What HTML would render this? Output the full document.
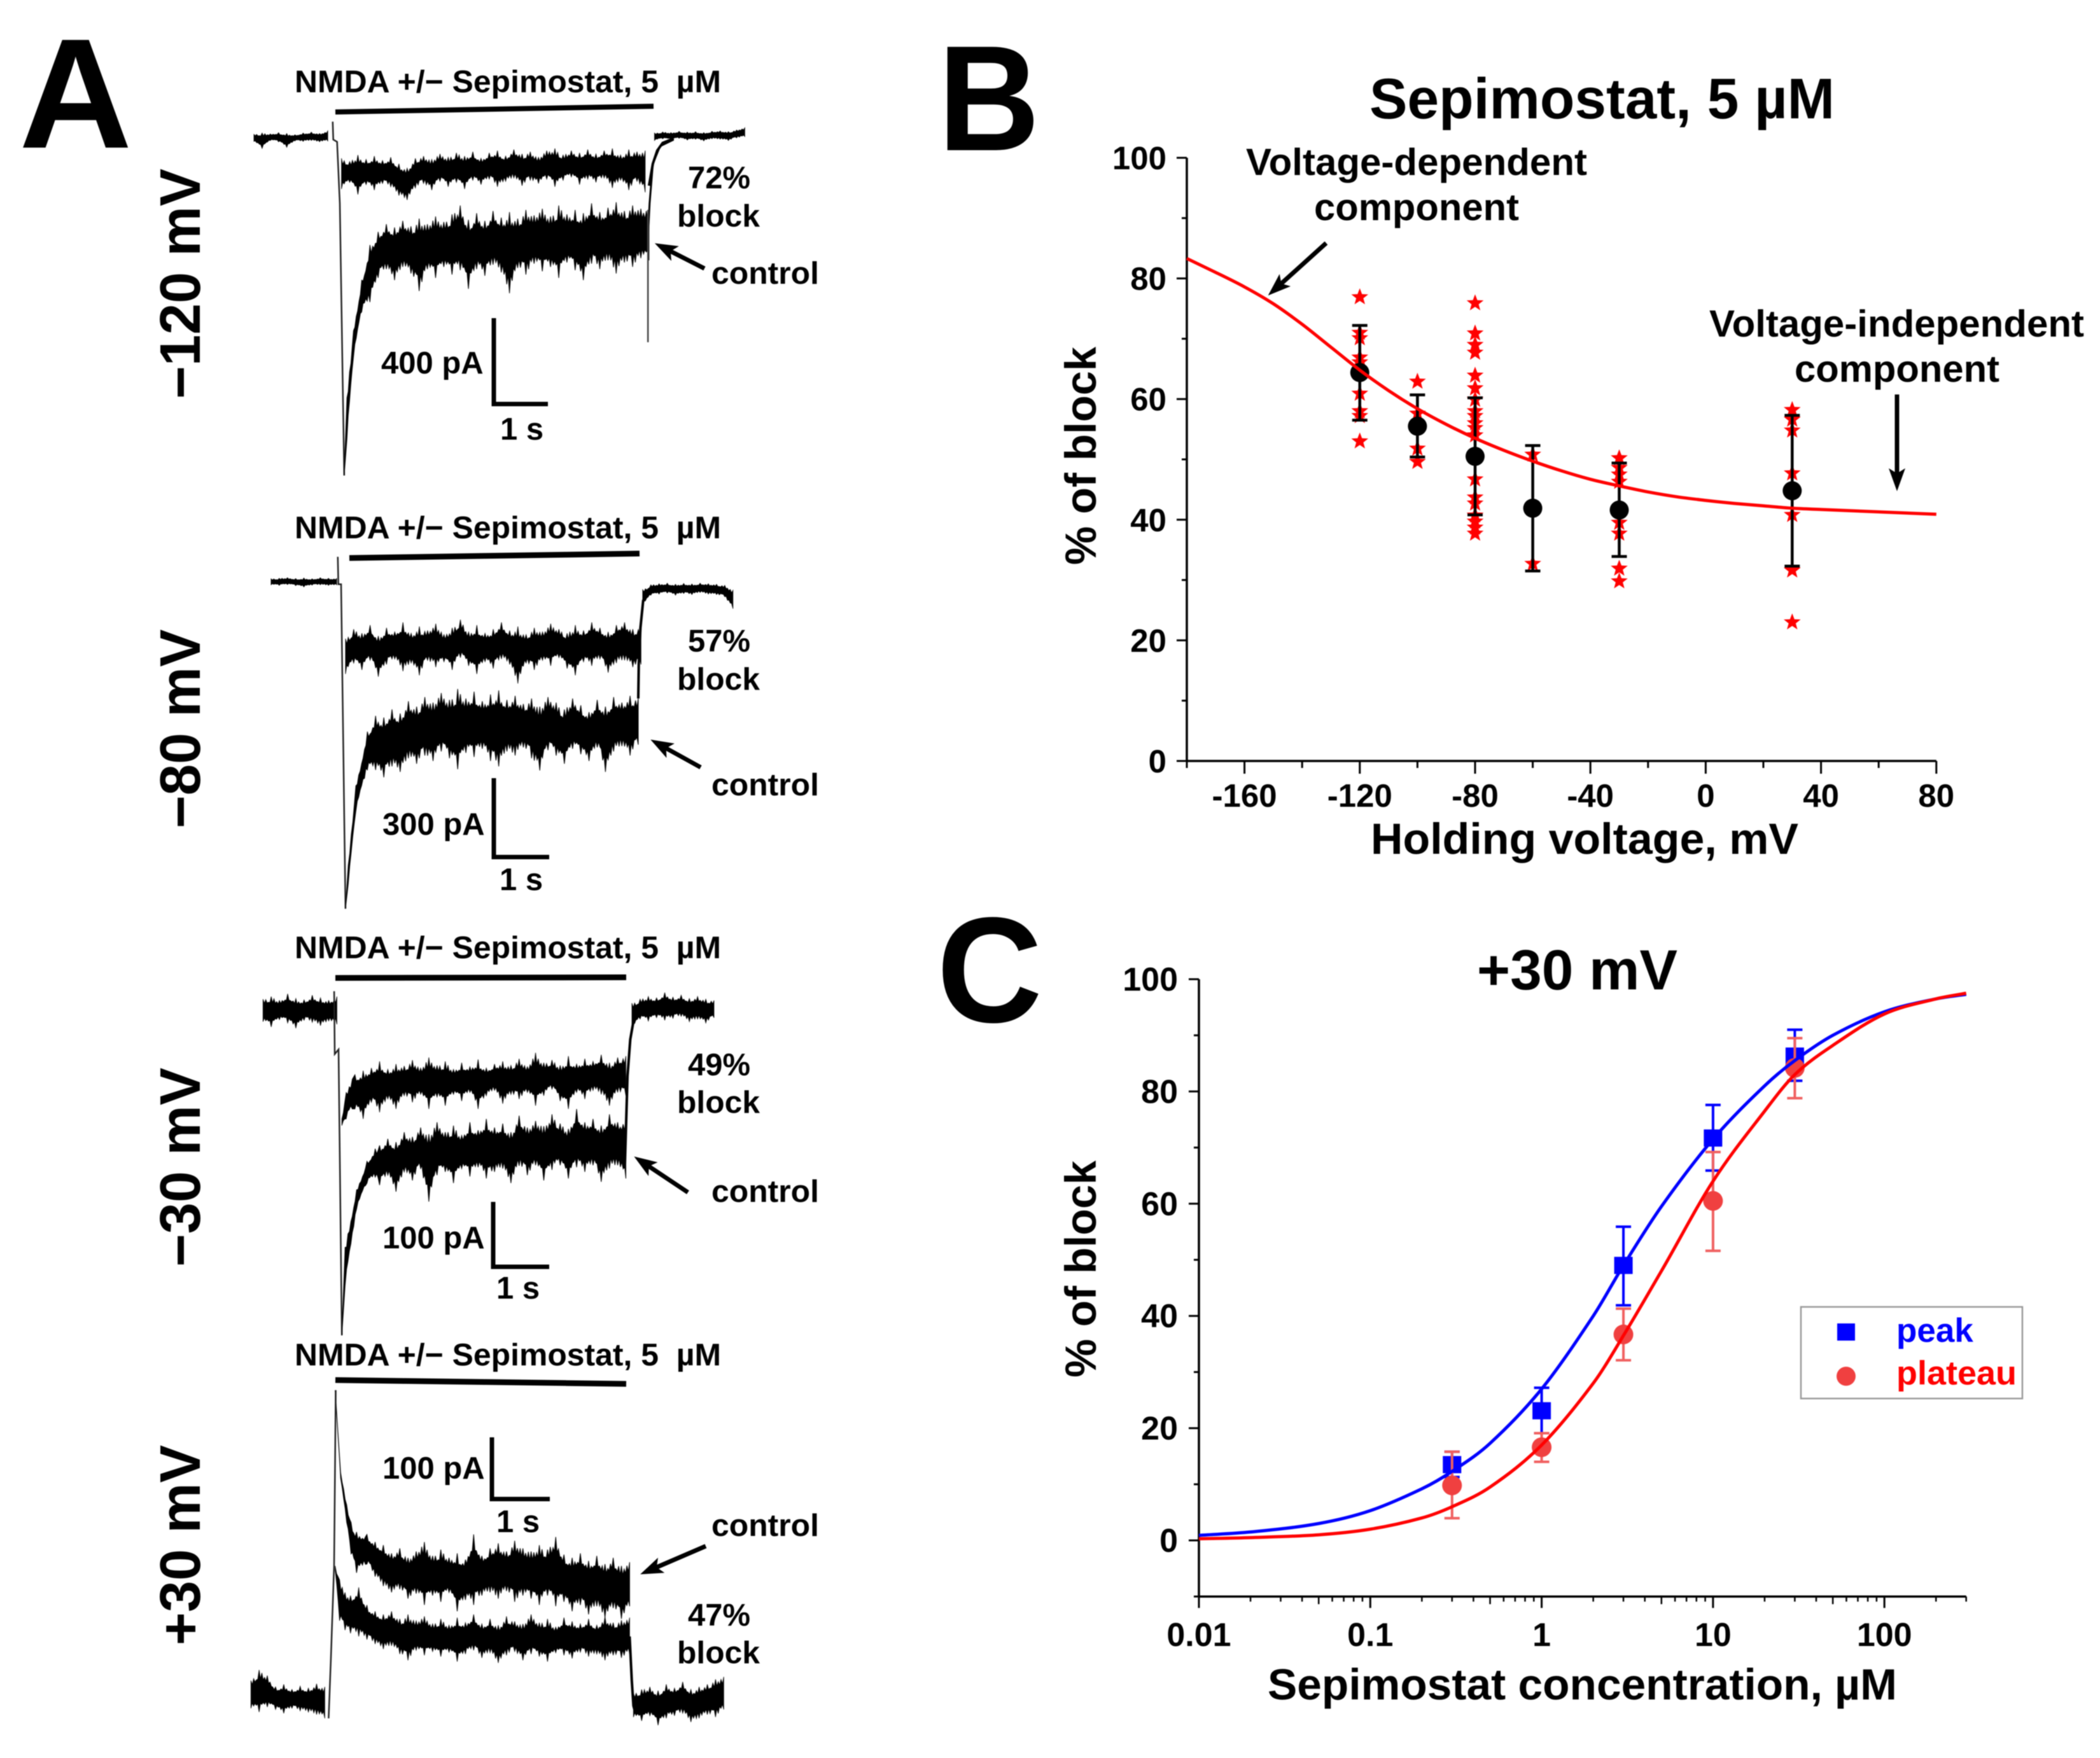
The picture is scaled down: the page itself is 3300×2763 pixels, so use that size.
<!DOCTYPE html>
<html lang="en">
<head>
<meta charset="utf-8">
<title>Sepimostat block of NMDA currents</title>
<style>
html,body{margin:0;padding:0;background:#fff;}
svg{display:block;filter:blur(0.9px);}
text{font-family:"Liberation Sans",Arial,sans-serif;font-weight:bold;fill:#000;}
.lab{font-size:49px;}
.hold{font-size:90px;}
.panel{font-size:236px;}
.anno{font-size:59px;}
.axt{font-size:69px;}
.pre{white-space:pre;}
</style>
</head>
<body>
<svg xmlns="http://www.w3.org/2000/svg" width="3300" height="2763" viewBox="0 0 3300 2763">
<defs>
<marker id="ah" viewBox="0 0 36 26" refX="10" refY="13" markerWidth="36" markerHeight="26" markerUnits="userSpaceOnUse" orient="auto">
<path d="M36 13L0 0L8 13L0 26Z" fill="#000"/>
</marker>
</defs>
<rect x="0" y="0" width="3300" height="2763" fill="#fff"/>

<text class="panel" x="30" y="232" font-size="246" style="font-size:246px">A</text>
<text class="panel" x="1474" y="236" textLength="160" lengthAdjust="spacingAndGlyphs">B</text>
<text class="panel" x="1472" y="1606" textLength="166" lengthAdjust="spacingAndGlyphs">C</text>

<g id="rec1"></g>
<g id="rec2"></g>
<g id="rec3"></g>
<g id="rec4"></g>

<!-- Panel A: -120 mV -->
<text class="hold" transform="translate(314,627) rotate(-90)" textLength="362" lengthAdjust="spacingAndGlyphs">−120 mV</text>
<text class="lab pre" x="463" y="145" textLength="670" lengthAdjust="spacingAndGlyphs">NMDA +/− Sepimostat, 5  µM</text>
<line x1="527" y1="176" x2="1027" y2="167" stroke="#000" stroke-width="8"/>
<text class="lab" x="1081" y="296">72%</text>
<text class="lab" x="1064" y="356" textLength="130" lengthAdjust="spacingAndGlyphs">block</text>
<text class="lab" x="1118" y="446" textLength="169" lengthAdjust="spacingAndGlyphs">control</text>
<line x1="1107" y1="422" x2="1052" y2="394" stroke="#000" stroke-width="7" marker-end="url(#ah)"/>
<text class="lab" x="599" y="587">400 pA</text>
<path d="M776 500V635H861" fill="none" stroke="#000" stroke-width="7"/>
<text class="lab" x="786" y="691">1 s</text>

<!-- Panel A: -80 mV -->
<text class="hold" transform="translate(314,1302) rotate(-90)" textLength="313" lengthAdjust="spacingAndGlyphs">−80 mV</text>
<text class="lab pre" x="463" y="846" textLength="670" lengthAdjust="spacingAndGlyphs">NMDA +/− Sepimostat, 5  µM</text>
<line x1="549" y1="877" x2="1005" y2="870" stroke="#000" stroke-width="9"/>
<text class="lab" x="1081" y="1024">57%</text>
<text class="lab" x="1064" y="1084" textLength="130" lengthAdjust="spacingAndGlyphs">block</text>
<text class="lab" x="1118" y="1250" textLength="169" lengthAdjust="spacingAndGlyphs">control</text>
<line x1="1101" y1="1206" x2="1045" y2="1175" stroke="#000" stroke-width="7" marker-end="url(#ah)"/>
<text class="lab" x="601" y="1312">300 pA</text>
<path d="M776 1223V1347H863" fill="none" stroke="#000" stroke-width="7"/>
<text class="lab" x="785" y="1399">1 s</text>

<!-- Panel A: -30 mV -->
<text class="hold" transform="translate(314,1991) rotate(-90)" textLength="313" lengthAdjust="spacingAndGlyphs">−30 mV</text>
<text class="lab pre" x="463" y="1506" textLength="670" lengthAdjust="spacingAndGlyphs">NMDA +/− Sepimostat, 5  µM</text>
<line x1="527" y1="1537" x2="984" y2="1536" stroke="#000" stroke-width="9"/>
<text class="lab" x="1081" y="1690">49%</text>
<text class="lab" x="1064" y="1749" textLength="130" lengthAdjust="spacingAndGlyphs">block</text>
<text class="lab" x="1118" y="1889" textLength="169" lengthAdjust="spacingAndGlyphs">control</text>
<line x1="1081" y1="1874" x2="1018" y2="1832" stroke="#000" stroke-width="7" marker-end="url(#ah)"/>
<text class="lab" x="601" y="1962">100 pA</text>
<path d="M775 1889V1991H863" fill="none" stroke="#000" stroke-width="7"/>
<text class="lab" x="780" y="2041">1 s</text>

<!-- Panel A: +30 mV -->
<text class="hold" transform="translate(314,2586) rotate(-90)" textLength="315" lengthAdjust="spacingAndGlyphs">+30 mV</text>
<text class="lab pre" x="463" y="2146" textLength="670" lengthAdjust="spacingAndGlyphs">NMDA +/− Sepimostat, 5  µM</text>
<line x1="527" y1="2169" x2="984" y2="2175" stroke="#000" stroke-width="9"/>
<text class="lab" x="1118" y="2414" textLength="169" lengthAdjust="spacingAndGlyphs">control</text>
<line x1="1109" y1="2430" x2="1030" y2="2464" stroke="#000" stroke-width="7" marker-end="url(#ah)"/>
<text class="lab" x="1081" y="2555">47%</text>
<text class="lab" x="1064" y="2614" textLength="130" lengthAdjust="spacingAndGlyphs">block</text>
<text class="lab" x="601" y="2324">100 pA</text>
<path d="M773 2259V2356H864" fill="none" stroke="#000" stroke-width="7"/>
<text class="lab" x="780" y="2408">1 s</text>

<!-- Panel B static text -->
<text x="2152" y="186" font-size="90" textLength="731" lengthAdjust="spacingAndGlyphs">Sepimostat, 5 µM</text>
<text class="anno" x="1958" y="275" textLength="536" lengthAdjust="spacingAndGlyphs">Voltage-dependent</text>
<text class="anno" x="2065" y="346" textLength="322" lengthAdjust="spacingAndGlyphs">component</text>
<text class="anno" x="2686" y="529" textLength="589" lengthAdjust="spacingAndGlyphs">Voltage-independent</text>
<text class="anno" x="2820" y="600" textLength="322" lengthAdjust="spacingAndGlyphs">component</text>
<line x1="2084" y1="382" x2="2012" y2="447" stroke="#000" stroke-width="7" marker-end="url(#ah)"/>
<line x1="2981" y1="620" x2="2981" y2="746" stroke="#000" stroke-width="7" marker-end="url(#ah)"/>
<text class="axt" x="2154" y="1342" textLength="672" lengthAdjust="spacingAndGlyphs">Holding voltage, mV</text>
<text class="axt" transform="translate(1722,888) rotate(-90)" textLength="343" lengthAdjust="spacingAndGlyphs">% of block</text>
<g id="chartB"></g>

<!-- Panel C static text -->
<text x="2321" y="1555" font-size="89" textLength="315" lengthAdjust="spacingAndGlyphs">+30 mV</text>
<text class="axt" x="1992" y="2671" textLength="989" lengthAdjust="spacingAndGlyphs">Sepimostat concentration, µM</text>
<text class="axt" transform="translate(1722,2165) rotate(-90)" textLength="341" lengthAdjust="spacingAndGlyphs">% of block</text>
<g id="chartC"></g>

<g>
<rect x="2830" y="2054" width="348" height="144" fill="#fff" stroke="#999" stroke-width="2.5"/>
<rect x="2887" y="2080" width="28" height="27" fill="#0000ff"/>
<circle cx="2901" cy="2163" r="15" fill="#f04040"/>
<text x="2980" y="2109" font-size="53" style="fill:#0000ff">peak</text>
<text x="2980" y="2176" font-size="53" style="fill:#ff0000" textLength="189" lengthAdjust="spacingAndGlyphs">plateau</text>
</g>
</svg>

<script>
// ---------- Panel A: current traces (time in s from NMDA onset, current in pA) ----------
const p1PreStart = -1.57;
const p1PreTop = [14,20,16,22,18,12,20,24,18,30];
const p1PreBot = [-18,-50,-14,-20,-45,-16,-18,-14,-20,-16];
const p1OnsetT = [-0.13,-0.12,-0.05,0,0.08];
const p1OnsetI = [72,-10,-20,-300,-1540];
const p1BlockStart = 0.03;
const p1BlockTop = [-95,-110,-80,-100,-85,-105,-90,-120,-140,-95,-85,-100,-75,-90,-70,-85,-65,-95,-70,-60,-85,-55,-75,-65,-90,-60,-50,-80,-60,-70,-55,-75,-60,-50,-80,-55,-65,-60];
const p1BlockBot = [-235,-205,-260,-215,-240,-210,-225,-265,-285,-230,-210,-240,-200,-225,-205,-235,-195,-215,-190,-225,-200,-185,-220,-195,-210,-190,-225,-195,-180,-215,-190,-205,-185,-230,-195,-240,-200,-250];
const p1CtrlHeadT = [0.08,0.13,0.25,0.4,0.55];
const p1CtrlHeadTop = [-1530,-1186,-880,-650,-490];
const p1CtrlHeadBot = [-1540,-1375,-1000,-795,-750];
const p1CtrlStart = 0.7;
const p1CtrlTop = [-430,-395,-410,-380,-405,-370,-395,-360,-385,-350,-310,-375,-345,-380,-335,-365,-340,-370,-330,-355,-325,-360,-310,-350,-330,-345,-300,-340,-320,-295,-335,-310,-325,-330];
const p1CtrlBot = [-640,-600,-650,-590,-620,-700,-600,-640,-590,-625,-605,-690,-600,-630,-580,-615,-710,-595,-625,-575,-610,-590,-640,-570,-605,-650,-575,-600,-560,-620,-570,-590,-550,-560];
const p1EndSpikeT = [5.63,5.63];
const p1EndSpikeI = [-330,-933];
const p1TailT = [5.65,5.72,5.8,5.9,6.1];
const p1TailI = [-220,-120,-60,-25,-5];
const p1CtrlTailT = [5.62,5.66,5.72,5.85,6.1];
const p1CtrlTailI = [-500,-300,-120,-40,-10];
const p1PostStart = 5.75;
const p1PostTop = [20,25,22,28,24,26,22,28,30,26,34,44];
const p1PostBot = [-14,-6,-10,-4,-12,-8,-16,-6,-8,-14,-2,4];

const p2PreStart = -1.28;
const p2PreTop = [10,12,14,11,13,10,14,12,11];
const p2PreBot = [-12,-14,-11,-15,-20,-13,-12,-14,-12];
const p2OnsetT = [-0.06,-0.05,0,0.08];
const p2OnsetI = [91,-10,-10,-1203];
const p2BlockStart = 0.08;
const p2BlockTop = [-210,-175,-190,-160,-200,-170,-185,-150,-190,-165,-180,-155,-195,-170,-140,-185,-160,-190,-175,-150,-180,-165,-195,-170,-185,-155,-175,-190,-160,-180,-150,-170,-185,-160,-150,-175,-165];
const p2BlockBot = [-340,-300,-325,-290,-350,-305,-285,-330,-300,-345,-290,-315,-295,-325,-280,-310,-340,-295,-320,-285,-305,-375,-300,-325,-290,-310,-280,-320,-345,-295,-310,-285,-335,-300,-290,-315,-305];
const p2CtrlHeadT = [0.08,0.13,0.27,0.48,0.63];
const p2CtrlHeadTop = [-1203,-1044,-751,-552,-494];
const p2CtrlHeadBot = [-1203,-1114,-845,-693,-693];
const p2CtrlStart = 0.78;
const p2CtrlTop = [-500,-470,-485,-440,-460,-425,-445,-410,-435,-395,-430,-405,-440,-415,-400,-435,-420,-450,-430,-460,-425,-445,-470,-430,-455,-480,-435,-460,-425,-445,-420,-430];
const p2CtrlBot = [-720,-680,-700,-650,-670,-640,-660,-625,-650,-690,-630,-645,-615,-660,-680,-625,-640,-610,-650,-695,-620,-640,-670,-615,-635,-660,-610,-700,-625,-605,-640,-600];
const p2TailT = [5.43,5.44,5.47,5.52,5.6];
const p2TailI = [-430,-300,-170,-70,-35];
const p2PostStart = 5.51;
const p2PostTop = [-30,-12,-8,-6,-10,-7,-9,-6,-8,-10,-14,-32];
const p2PostBot = [-90,-50,-46,-42,-50,-44,-48,-40,-46,-48,-56,-100];

const p3PreStart = -1.38;
const p3PreTop = [16,20,14,24,17,15,22,18,14,20];
const p3PreBot = [-18,-26,-15,-20,-28,-16,-19,-24,-17,-22];
const p3OnsetT = [-0.08,-0.07,0,0.06];
const p3OnsetI = [28,-67,-60,-492];
const p3BlockHeadT = [0.06,0.14,0.25];
const p3BlockHeadTop = [-165,-125,-105];
const p3BlockHeadBot = [-175,-165,-150];
const p3BlockStart = 0.3;
const p3BlockTop = [-98,-92,-88,-78,-90,-82,-85,-76,-88,-72,-84,-78,-90,-80,-86,-75,-88,-82,-78,-84,-74,-86,-65,-80,-76,-84,-70,-82,-74,-78,-68,-80,-72,-70];
const p3BlockBot = [-150,-165,-140,-155,-135,-150,-130,-140,-128,-150,-132,-145,-128,-138,-125,-150,-130,-122,-142,-128,-135,-125,-145,-130,-120,-138,-150,-125,-135,-122,-128,-145,-125,-130];
const p3CtrlHeadT = [0.06,0.12,0.33,0.52,0.67];
const p3CtrlHeadTop = [-492,-359,-272,-229,-210];
const p3CtrlHeadBot = [-492,-417,-301,-262,-253];
const p3CtrlStart = 0.75;
const p3CtrlTop = [-205,-195,-200,-185,-192,-178,-188,-170,-185,-175,-190,-170,-182,-165,-178,-172,-185,-160,-178,-168,-176,-158,-172,-180,-150,-170,-165,-175,-158,-170,-165];
const p3CtrlBot = [-265,-250,-275,-245,-258,-240,-290,-250,-245,-262,-240,-252,-238,-255,-245,-240,-262,-236,-250,-235,-258,-242,-235,-255,-238,-245,-235,-260,-240,-235,-255];
const p3TailT = [5.23,5.28,5.33,5.4];
const p3TailI = [-240,-100,-45,-12];
const p3PostStart = 5.36;
const p3PostTop = [10,16,20,18,26,19,22,17,20,16,14];
const p3PostBot = [-30,-14,-17,-12,-16,-13,-10,-18,-14,-20,-12];

const p4PreStart = -1.52;
const p4PreTop = [30,47,38,20,24,16,21,18,25,20];
const p4PreBot = [-14,-20,-12,-16,-22,-14,-18,-20,-24,-30];
const p4OnsetT = [-0.1,-0.06,0,0.03];
const p4OnsetI = [-30,60,212,491];
const p4BlockHeadT = [0.02,0.1,0.2];
const p4BlockHeadTop = [212,190,170];
const p4BlockHeadBot = [205,125,110];
const p4BlockStart = 0.3;
const p4BlockTop = [165,178,150,140,135,140,128,135,125,132,120,128,118,130,122,135,120,128,118,132,124,120,135,122,128,115,130,124,120,128,118,132,122,126,130];
const p4BlockBot = [105,100,95,88,80,85,72,62,78,70,76,68,75,60,72,78,66,74,58,70,76,62,72,68,60,74,70,65,75,68,72,62,70,66,72];
const p4CtrlHeadT = [0.02,0.12,0.23,0.31,0.41];
const p4CtrlHeadTop = [491,360,309,281,266];
const p4CtrlHeadBot = [491,351,281,231,201];
const p4CtrlStart = 0.6;
const p4CtrlTop = [262,250,245,232,240,225,235,250,228,238,225,232,222,262,228,240,248,235,252,240,235,245,238,258,230,225,232,220,228,215,225,212,218];
const p4CtrlBot = [215,195,180,170,175,160,168,150,165,155,170,140,158,150,165,170,160,172,155,165,160,150,165,148,155,140,150,135,148,130,145,128,148];
const p4TailT = [5.4,5.44,5.47,5.5];
const p4TailI = [100,30,-10,-20];
const p4PostStart = 5.47;
const p4PostTop = [10,16,20,14,24,18,28,16,20,24,32,36];
const p4PostBot = [-28,-34,-26,-41,-30,-26,-22,-36,-30,-24,-28,-16];

const sampleStep = 0.15;

// ---------- Panel B data ----------
const bXTicks = [-160,-120,-80,-40,0,40,80];
const bXMinor = [-180,-140,-100,-60,-20,20,60];
const bYTicks = [0,20,40,60,80,100];
const bYMinor = [10,30,50,70,90];
const bCurveV = [-180,-170,-160,-150,-140,-130,-120,-110,-100,-90,-80,-70,-60,-50,-40,-30,-20,-10,0,10,20,30,40,50,60,70,80];
const bCurveBlock = [83.3,81,78.6,75.8,72.4,68.6,64.8,61.4,58.4,55.8,53.5,51.5,49.7,48.1,46.7,45.6,44.6,43.8,43.2,42.7,42.3,41.9,41.7,41.5,41.3,41.1,40.9];
const bVoltages = [-120,-100,-80,-60,-30,30];
const bMeans = [64.4,55.5,50.5,41.9,41.6,44.8];
const bErrTop = [72.2,60.7,60.2,52.3,49.4,57.3];
const bErrBot = [56.5,50.4,40.8,31.5,33.9,32.3];
const bCellsM120 = [76.9,71,70.1,66.9,66.1,60.9,58,57.2,53];
const bCellsM100 = [62.9,57.6,51.8,49.6];
const bCellsM80 = [75.9,70.9,69,67.7,63.9,61.8,59.9,58,57.2,56,55.2,54,46.7,43.7,42.7,40.7,39.7,38.7,37.7];
const bCellsM60 = [50.8,32.7];
const bCellsM30 = [50.2,48.6,47.5,46.3,39.5,37.7,31.9,29.8];
const bCellsP30 = [58.2,56.6,54.8,47.7,40.8,31.6,23];

// ---------- Panel C data ----------
const cXTicks = [0.01,0.1,1,10,100];
const cXLabels = ["0.01","0.1","1","10","100"];
const cYTicks = [0,20,40,60,80,100];
const cYMinor = [-10,10,30,50,70,90];
const cCurveConc = [0.01,0.02,0.05,0.1,0.2,0.3,0.5,1,2,3,5,10,20,30,50,100,200,300];
const cCurvePeak = [0.9,1.5,3,5.3,9.2,12.3,17.3,27,40,49,59.5,71.5,81,85.5,90,94.2,96.5,97.3];
const cCurvePlateau = [0.3,0.5,1,2,4,6,9.5,17,28,36.5,48,64,76.5,83,88.2,93.8,96.5,97.5];
const cConc = [0.3,1,3,10,30];
const cPeak = [13.5,23.1,49,71.7,86.3];
const cPeakTop = [15.8,27.2,55.9,77.6,91];
const cPeakBot = [11.3,19.1,41.9,65.9,81.9];
const cPlateau = [9.8,16.6,36.7,60.5,84.2];
const cPlateauTop = [15.8,19.1,41.3,69.2,89.5];
const cPlateauBot = [3.96,14,32.1,51.6,78.8];

// ---------- helpers ----------
const NS = 'http://www.w3.org/2000/svg';
function mk(parent, tag, attrs, txt) {
  const e = document.createElementNS(NS, tag);
  for (const k in attrs) e.setAttribute(k, attrs[k]);
  if (txt !== undefined) e.textContent = txt;
  parent.appendChild(e);
  return e;
}
function grid(start, n) {
  const out = [];
  for (let i = 0; i < n; i++) out.push(start + i * sampleStep);
  return out;
}
// Decorative sawtooth between envelope samples, so the band edge reads as recording noise.
const toothDepth = [0.55,0.2,0.75,0.35,0.1,0.6,0.3,0.85,0.15,0.45,0.7,0.25,0.5];
const coreShare = 0.62;
function edge(xf, yf, t, a, b, phase) {
  // a = the edge being drawn, b = the opposite edge
  const pts = [];
  for (let i = 0; i < t.length; i++) {
    pts.push([xf(t[i]), yf(a[i])]);
    if (i === t.length - 1) break;
    const x0 = xf(t[i]), x1 = xf(t[i + 1]), dx = x1 - x0;
    const steps = Math.max(1, Math.round(Math.abs(dx) / 2.2));
    if (steps < 3) continue;
    for (let j = 1; j < steps; j++) {
      const f = j / steps;
      const ai = a[i] + (a[i + 1] - a[i]) * f;
      const bi = b[i] + (b[i + 1] - b[i]) * f;
      const mid = (ai + bi) / 2;
      const core = mid + (ai - mid) * coreShare;
      let v;
      if (j % 2) v = core;
      else v = core + (ai - core) * toothDepth[(i * 5 + j + phase) % toothDepth.length];
      pts.push([x0 + dx * f, yf(v)]);
    }
  }
  return pts;
}
function bandPoints(xf, yf, t, top, bot) {
  const up = edge(xf, yf, t, top, bot, 0);
  const dn = edge(xf, yf, t, bot, top, 7).reverse();
  return up.concat(dn).map(p => p[0].toFixed(1) + ',' + p[1].toFixed(1)).join(' ');
}
function linePoints(xf, yf, t, v) {
  return t.map((q, i) => xf(q).toFixed(1) + ',' + yf(v[i]).toFixed(1)).join(' ');
}
function smoothPath(xs, ys) {
  const n = xs.length, m = [];
  for (let i = 0; i < n; i++) {
    const a = Math.max(i - 1, 0), b = Math.min(i + 1, n - 1);
    m.push((ys[b] - ys[a]) / (xs[b] - xs[a]));
  }
  let d = 'M' + xs[0].toFixed(1) + ' ' + ys[0].toFixed(1);
  for (let i = 0; i < n - 1; i++) {
    const dx = (xs[i + 1] - xs[i]) / 3;
    d += 'C' + (xs[i] + dx).toFixed(1) + ' ' + (ys[i] + m[i] * dx).toFixed(1) + ' ' + (xs[i + 1] - dx).toFixed(1) + ' ' + (ys[i + 1] - m[i + 1] * dx).toFixed(1) + ' ' + xs[i + 1].toFixed(1) + ' ' + ys[i + 1].toFixed(1);
  }
  return d;
}
function drawRecording(id, xf, yf, r) {
  const g = document.getElementById(id);
  const pre = mk(g, 'polygon', {points: bandPoints(xf, yf, grid(r.preStart, r.preTop.length), r.preTop, r.preBot), fill: '#000', stroke: '#000', 'stroke-width': 0.8});
  
  
  const post = mk(g, 'polygon', {points: bandPoints(xf, yf, grid(r.postStart, r.postTop.length), r.postTop, r.postBot), fill: '#000', stroke: '#000', 'stroke-width': 0.8});
  
  
  const onset = mk(g, 'polyline', {points: linePoints(xf, yf, r.onsetT, r.onsetI), fill: 'none', stroke: '#222', 'stroke-width': 2.5});
  
  
  const blockT = r.blockHeadT.concat(grid(r.blockStart, r.blockTop.length));
  const block = mk(g, 'polygon', {points: bandPoints(xf, yf, blockT, r.blockHeadTop.concat(r.blockTop), r.blockHeadBot.concat(r.blockBot)), fill: '#000', stroke: '#000', 'stroke-width': 0.8});
  
  
  const ctrlT = r.ctrlHeadT.concat(grid(r.ctrlStart, r.ctrlTop.length));
  const ctrl = mk(g, 'polygon', {points: bandPoints(xf, yf, ctrlT, r.ctrlHeadTop.concat(r.ctrlTop), r.ctrlHeadBot.concat(r.ctrlBot)), fill: '#000', stroke: '#000', 'stroke-width': 1});
  
  
  const tail = mk(g, 'polyline', {points: linePoints(xf, yf, r.tailT, r.tailI), fill: 'none', stroke: '#000', 'stroke-width': 4});
  
  
  if (r.tail2T) {
    const tail2 = mk(g, 'polyline', {points: linePoints(xf, yf, r.tail2T, r.tail2I), fill: 'none', stroke: '#000', 'stroke-width': 3});
    
    
  }
  if (r.spikeT) {
    const sp = mk(g, 'polyline', {points: linePoints(xf, yf, r.spikeT, r.spikeI), fill: 'none', stroke: '#444', 'stroke-width': 2.5});
    
    
  }
}

// ---------- Panel A: one time and current axis function per recording ----------
const x1 = t => 534 + t * 86, y1 = i => 216 - i * 0.345;
const x2 = t => 536 + t * 86, y2 = i => 914 - i * 0.4274;
const x3 = t => 532 + t * 86, y3 = i => 1587 - i * 1.04;
const x4 = t => 525 + t * 86, y4 = i => 2671 - i * 0.99;

drawRecording('rec1', x1, y1, {preStart:p1PreStart, preTop:p1PreTop, preBot:p1PreBot, postStart:p1PostStart, postTop:p1PostTop, postBot:p1PostBot, onsetT:p1OnsetT, onsetI:p1OnsetI, blockHeadT:[], blockHeadTop:[], blockHeadBot:[], blockStart:p1BlockStart, blockTop:p1BlockTop, blockBot:p1BlockBot, ctrlHeadT:p1CtrlHeadT, ctrlHeadTop:p1CtrlHeadTop, ctrlHeadBot:p1CtrlHeadBot, ctrlStart:p1CtrlStart, ctrlTop:p1CtrlTop, ctrlBot:p1CtrlBot, tailT:p1TailT, tailI:p1TailI, tail2T:p1CtrlTailT, tail2I:p1CtrlTailI, spikeT:p1EndSpikeT, spikeI:p1EndSpikeI});
drawRecording('rec2', x2, y2, {preStart:p2PreStart, preTop:p2PreTop, preBot:p2PreBot, postStart:p2PostStart, postTop:p2PostTop, postBot:p2PostBot, onsetT:p2OnsetT, onsetI:p2OnsetI, blockHeadT:[], blockHeadTop:[], blockHeadBot:[], blockStart:p2BlockStart, blockTop:p2BlockTop, blockBot:p2BlockBot, ctrlHeadT:p2CtrlHeadT, ctrlHeadTop:p2CtrlHeadTop, ctrlHeadBot:p2CtrlHeadBot, ctrlStart:p2CtrlStart, ctrlTop:p2CtrlTop, ctrlBot:p2CtrlBot, tailT:p2TailT, tailI:p2TailI});
drawRecording('rec3', x3, y3, {preStart:p3PreStart, preTop:p3PreTop, preBot:p3PreBot, postStart:p3PostStart, postTop:p3PostTop, postBot:p3PostBot, onsetT:p3OnsetT, onsetI:p3OnsetI, blockHeadT:p3BlockHeadT, blockHeadTop:p3BlockHeadTop, blockHeadBot:p3BlockHeadBot, blockStart:p3BlockStart, blockTop:p3BlockTop, blockBot:p3BlockBot, ctrlHeadT:p3CtrlHeadT, ctrlHeadTop:p3CtrlHeadTop, ctrlHeadBot:p3CtrlHeadBot, ctrlStart:p3CtrlStart, ctrlTop:p3CtrlTop, ctrlBot:p3CtrlBot, tailT:p3TailT, tailI:p3TailI});
drawRecording('rec4', x4, y4, {preStart:p4PreStart, preTop:p4PreTop, preBot:p4PreBot, postStart:p4PostStart, postTop:p4PostTop, postBot:p4PostBot, onsetT:p4OnsetT, onsetI:p4OnsetI, blockHeadT:p4BlockHeadT, blockHeadTop:p4BlockHeadTop, blockHeadBot:p4BlockHeadBot, blockStart:p4BlockStart, blockTop:p4BlockTop, blockBot:p4BlockBot, ctrlHeadT:p4CtrlHeadT, ctrlHeadTop:p4CtrlHeadTop, ctrlHeadBot:p4CtrlHeadBot, ctrlStart:p4CtrlStart, ctrlTop:p4CtrlTop, ctrlBot:p4CtrlBot, tailT:p4TailT, tailI:p4TailI});

// ---------- Panel B ----------
const bX = v => 1865 + (v + 180) * 4.53;
const bY = p => 1196 - p * 9.48;
const gB = document.getElementById('chartB');

const bAxisY = mk(gB, 'line', {x1: bX(-180), y1: bY(100), x2: bX(-180), y2: bY(0), stroke: '#000', 'stroke-width': 3.5});


const bAxisX = mk(gB, 'line', {x1: bX(-180), y1: bY(0), x2: bX(80), y2: bY(0), stroke: '#000', 'stroke-width': 3.5});



bYTicks.forEach(v => {
  const t = mk(gB, 'line', {x1: bX(-180) - 16, y1: bY(v), x2: bX(-180), y2: bY(v), stroke: '#000', 'stroke-width': 3});
  
  
  const l = mk(gB, 'text', {x: 1833, y: bY(v) + 18, 'text-anchor': 'end', 'font-size': 51}, String(v));
  
  
});
bYMinor.forEach(v => {
  const t = mk(gB, 'line', {x1: bX(-180) - 8, y1: bY(v), x2: bX(-180), y2: bY(v), stroke: '#000', 'stroke-width': 3});
  
  
});
bXTicks.forEach(v => {
  const t = mk(gB, 'line', {x1: bX(v), y1: bY(0), x2: bX(v), y2: bY(0) + 20, stroke: '#000', 'stroke-width': 3});
  
  
  const l = mk(gB, 'text', {x: bX(v), y: 1268, 'text-anchor': 'middle', 'font-size': 51}, String(v));
  
  
});
bXMinor.forEach(v => {
  const t = mk(gB, 'line', {x1: bX(v), y1: bY(0), x2: bX(v), y2: bY(0) + 11, stroke: '#000', 'stroke-width': 3});
  
  
});

function starPoints(cx, cy, R) {
  const p = [];
  for (let i = 0; i < 10; i++) {
    const r = i % 2 ? R * 0.42 : R, a = -Math.PI / 2 + i * Math.PI / 5;
    p.push((cx + r * Math.cos(a)).toFixed(1) + ',' + (cy + r * Math.sin(a)).toFixed(1));
  }
  return p.join(' ');
}
const bCellGroups = [bCellsM120, bCellsM100, bCellsM80, bCellsM60, bCellsM30, bCellsP30];
bCellGroups.forEach((cells, i) => {
  cells.forEach(v => {
    const s = mk(gB, 'polygon', {points: starPoints(bX(bVoltages[i]), bY(v), 14), fill: '#ff0000'});
    
    
  });
});
bVoltages.forEach((v, i) => {
  const x = bX(v);
  const e = mk(gB, 'path', {d: 'M' + x + ' ' + bY(bErrTop[i]) + 'V' + bY(bErrBot[i]) + 'M' + (x - 12) + ' ' + bY(bErrTop[i]) + 'H' + (x + 12) + 'M' + (x - 12) + ' ' + bY(bErrBot[i]) + 'H' + (x + 12), fill: 'none', stroke: '#000', 'stroke-width': 4.5});
  
  
  const d = mk(gB, 'circle', {cx: x, cy: bY(bMeans[i]), r: 15, fill: '#000'});
  
  
});
const bFit = mk(gB, 'path', {d: smoothPath(bCurveV.map(bX), bCurveBlock.map(bY)), fill: 'none', stroke: '#ff0000', 'stroke-width': 5});



// ---------- Panel C ----------
const cX = c => 1884 + (Math.log10(c) + 2) * 269.3;
const cY = p => 2421 - p * 8.82;
const gC = document.getElementById('chartC');

const cAxisY = mk(gC, 'line', {x1: cX(0.01), y1: cY(100), x2: cX(0.01), y2: cY(-10), stroke: '#000', 'stroke-width': 3.5});


const cAxisX = mk(gC, 'line', {x1: cX(0.01), y1: cY(-10), x2: cX(300), y2: cY(-10), stroke: '#000', 'stroke-width': 3.5});



cYTicks.forEach(v => {
  const t = mk(gC, 'line', {x1: cX(0.01) - 16, y1: cY(v), x2: cX(0.01), y2: cY(v), stroke: '#000', 'stroke-width': 3});
  
  
  const l = mk(gC, 'text', {x: 1851, y: cY(v) + 18, 'text-anchor': 'end', 'font-size': 52}, String(v));
  
  
});
cYMinor.forEach(v => {
  const t = mk(gC, 'line', {x1: cX(0.01) - 8, y1: cY(v), x2: cX(0.01), y2: cY(v), stroke: '#000', 'stroke-width': 3});
  
  
});
cXTicks.forEach((c, i) => {
  const t = mk(gC, 'line', {x1: cX(c), y1: cY(-10), x2: cX(c), y2: cY(-10) + 18, stroke: '#000', 'stroke-width': 3});
  
  
  const l = mk(gC, 'text', {x: cX(c), y: 2587, 'text-anchor': 'middle', 'font-size': 52}, cXLabels[i]);
  
  
  for (let m = 2; m < 10; m++) {
    if (c * m > 300) break;
    const mt = mk(gC, 'line', {x1: cX(c * m), y1: cY(-10), x2: cX(c * m), y2: cY(-10) + (m === 5 ? 12 : 8), stroke: '#000', 'stroke-width': 2.5});
    
    
  }
});

function cErr(c, top, bot, color) {
  const x = cX(c), cap = 12;
  return mk(gC, 'path', {d: 'M' + x + ' ' + cY(top) + 'V' + cY(bot) + 'M' + (x - cap) + ' ' + cY(top) + 'H' + (x + cap) + 'M' + (x - cap) + ' ' + cY(bot) + 'H' + (x + cap), fill: 'none', stroke: color, 'stroke-width': 4});
}
cConc.forEach((c, i) => {
  const e = cErr(c, cPeakTop[i], cPeakBot[i], '#0000ff');
  
  
  const s = mk(gC, 'rect', {x: cX(c) - 14.5, y: cY(cPeak[i]) - 13.5, width: 29, height: 27, fill: '#0000ff'});
  
  
});
cConc.forEach((c, i) => {
  const e = cErr(c, cPlateauTop[i], cPlateauBot[i], '#f06060');
  
  
  const d = mk(gC, 'circle', {cx: cX(c), cy: cY(cPlateau[i]), r: 15.5, fill: '#f04040'});
  
  
});
const cFitPeak = mk(gC, 'path', {d: smoothPath(cCurveConc.map(cX), cCurvePeak.map(cY)), fill: 'none', stroke: '#0000ff', 'stroke-width': 5});


const cFitPlateau = mk(gC, 'path', {d: smoothPath(cCurveConc.map(cX), cCurvePlateau.map(cY)), fill: 'none', stroke: '#ff0000', 'stroke-width': 5});


</script>
</body>
</html>
